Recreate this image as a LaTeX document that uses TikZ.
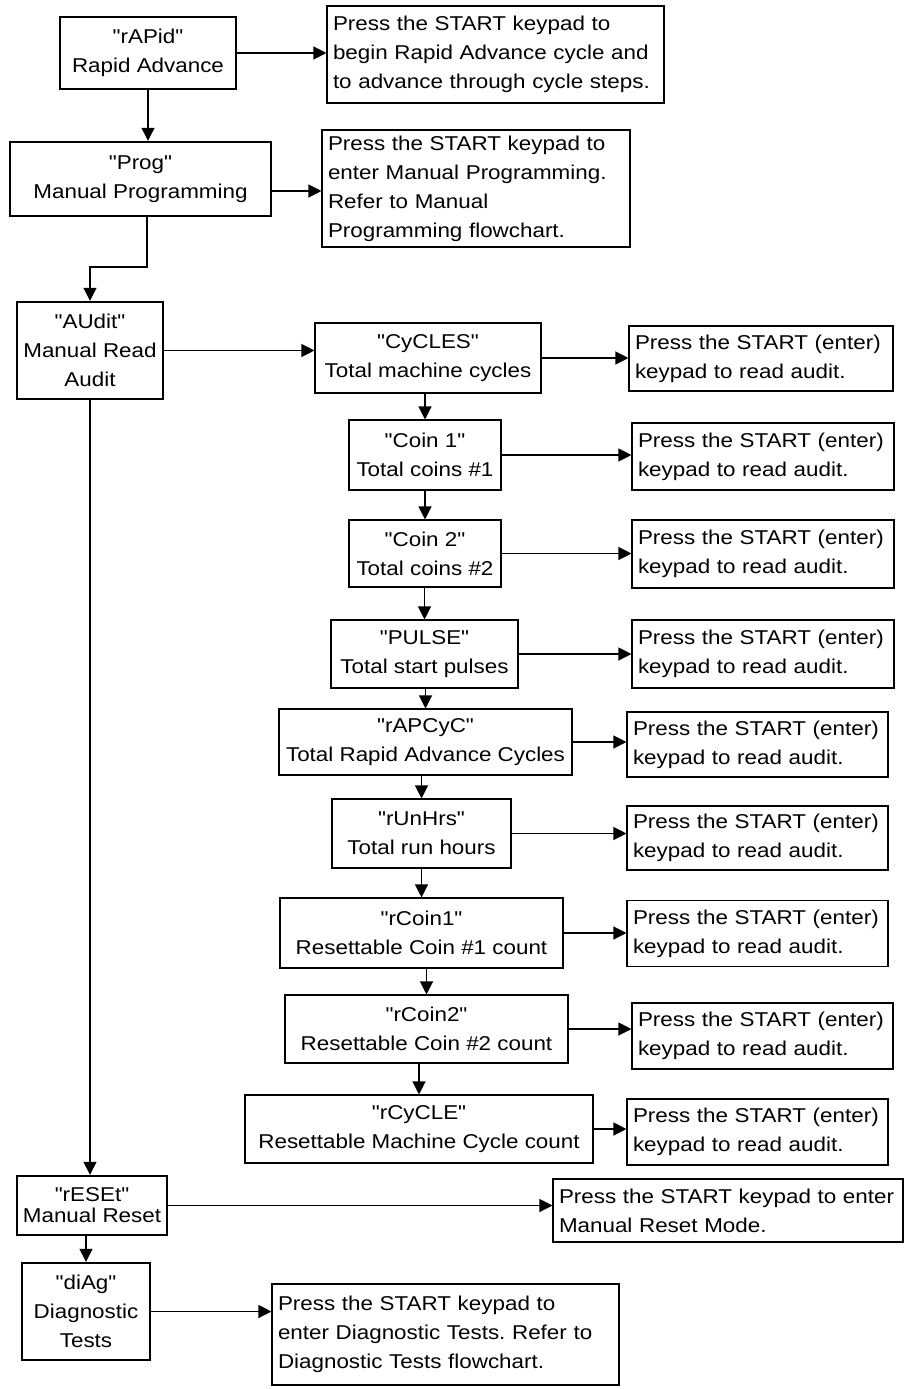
\documentclass[tikz,border=0pt]{standalone}
\usepackage{fontspec}
\setmainfont{Liberation Sans}[FakeStretch=1.12,Ligatures=TeXOff]
\usetikzlibrary{arrows.meta}
\begin{document}
\frenchspacing
\begin{tikzpicture}[x=1pt,y=-1pt,
  txt/.style={font=\fontsize{20}{29}\selectfont},
  tbox/.style={txt,draw,line width=2.4pt,inner sep=0pt,align=center},
  mbox/.style={txt,draw,line width=1.1pt,inner sep=0pt,align=center},
  rbox/.style={txt,draw,line width=1.1pt,inner xsep=6pt,inner ysep=0pt,align=left},
  arr/.style={line width=1.2pt,-{Triangle[length=13pt,width=13pt]}},
  ln/.style={line width=1.2pt}]
\useasboundingbox (0,0) rectangle (907,1389);

% left column
\node[tbox,minimum width=176pt,minimum height=72pt] (rapid) at (148,53) {"rAPid"\\Rapid Advance};
\node[tbox,minimum width=261pt,minimum height=74pt] (prog) at (140.5,179) {"Prog"\\Manual Programming};
\node[tbox,minimum width=146pt,minimum height=97pt] (audit) at (90,350.5) {"AUdit"\\Manual Read\\Audit};
\node[tbox,minimum width=150pt,minimum height=59pt,font=\fontsize{20}{21}\selectfont] (reset) at (92,1205.5) {"rESEt"\\Manual Reset};
\node[tbox,minimum width=128pt,minimum height=97pt] (diag) at (86,1311.5) {"diAg"\\Diagnostic\\Tests};

% right boxes of left column
\node[rbox,text width=325pt,minimum height=97pt] (r1) at (495.5,54.5) {Press the START keypad to\\begin Rapid Advance cycle and\\to advance through cycle steps.};
\node[rbox,text width=296pt,minimum height=117pt] (r2) at (476,188.5) {Press the START keypad to\\enter Manual Programming.\\Refer to Manual\\Programming flowchart.};
\node[rbox,text width=338pt,minimum height=63pt] (rreset) at (728,1210.5) {Press the START keypad to enter\\Manual Reset Mode.};
\node[rbox,text width=335pt,minimum height=101pt] (rdiag) at (445.5,1334.5) {Press the START keypad to\\enter Diagnostic Tests. Refer to\\Diagnostic Tests flowchart.};

% middle column
\node[mbox,minimum width=226pt,minimum height=70pt] (cycles) at (428,358) {"CyCLES"\\Total machine cycles};
\node[mbox,minimum width=152pt,minimum height=70pt] (coin1) at (425,455) {"Coin 1"\\Total coins \#1};
\node[mbox,minimum width=152pt,minimum height=67pt] (coin2) at (425,553.5) {"Coin 2"\\Total coins \#2};
\node[mbox,minimum width=187pt,minimum height=68pt] (pulse) at (424.5,654) {"PULSE"\\Total start pulses};
\node[mbox,minimum width=293pt,minimum height=66pt] (rapcyc) at (425.5,742) {"rAPCyC"\\Total Rapid Advance Cycles};
\node[mbox,minimum width=179pt,minimum height=69pt] (runhrs) at (421.5,833.5) {"rUnHrs"\\Total run hours};
\node[mbox,minimum width=283pt,minimum height=70pt] (rcoin1) at (421.5,933) {"rCoin1"\\Resettable Coin \#1 count};
\node[mbox,minimum width=283pt,minimum height=68pt] (rcoin2) at (426.5,1029) {"rCoin2"\\Resettable Coin \#2 count};
\node[mbox,minimum width=348pt,minimum height=68pt] (rcycle) at (419,1129) {"rCyCLE"\\Resettable Machine Cycle count};

% right column
\node[rbox,text width=252pt,minimum height=65pt] (ra) at (761,358.5) {Press the START (enter)\\keypad to read audit.};
\node[rbox,text width=250pt,minimum height=67pt] (rb) at (763,456.5) {Press the START (enter)\\keypad to read audit.};
\node[rbox,text width=250pt,minimum height=68pt] (rc) at (763,554) {Press the START (enter)\\keypad to read audit.};
\node[rbox,text width=250pt,minimum height=68pt] (rd) at (763,654) {Press the START (enter)\\keypad to read audit.};
\node[rbox,text width=249pt,minimum height=65pt] (re) at (757.5,744.5) {Press the START (enter)\\keypad to read audit.};
\node[rbox,text width=249pt,minimum height=64pt] (rf) at (757.5,838) {Press the START (enter)\\keypad to read audit.};
\node[rbox,text width=249pt,minimum height=66pt] (rg) at (757.5,933.5) {Press the START (enter)\\keypad to read audit.};
\node[rbox,text width=249pt,minimum height=66pt] (rh) at (762.5,1036) {Press the START (enter)\\keypad to read audit.};
\node[rbox,text width=249pt,minimum height=66pt] (ri) at (757.5,1132) {Press the START (enter)\\keypad to read audit.};

% connectors, left column
\draw[arr] (rapid.east) -- (r1.west |- rapid.east);
\draw[arr] (rapid.south) -- (prog.north -| rapid.south);
\coordinate (progout) at (271,191);
\draw[arr] (progout) -- (r2.west |- progout);
\coordinate (bend) at (147,267);
\draw[arr] (prog.south -| bend) -- (bend) -| (audit.north);
\draw[arr] (audit.east) -- (cycles.west |- audit.east);
\draw[arr] (audit.south) -- (reset.north -| audit.south);
\draw[arr] (reset.east) -- (rreset.west |- reset.east);
\draw[arr] (reset.south -| diag.north) -- (diag.north);
\draw[arr] (diag.east) -- (rdiag.west |- diag.east);

% middle column verticals
\draw[arr] (cycles.south -| coin1.north) -- (coin1.north);
\draw[arr] (coin1.south -| coin2.north) -- (coin2.north);
\draw[arr] (coin2.south -| pulse.north) -- (pulse.north);
\draw[arr] (pulse.south -| rapcyc.north) -- (rapcyc.north);
\draw[arr] (rapcyc.south -| runhrs.north) -- (runhrs.north);
\draw[arr] (runhrs.south -| rcoin1.north) -- (rcoin1.north);
\draw[arr] (rcoin1.south -| rcoin2.north) -- (rcoin2.north);
\draw[arr] (rcoin2.south -| rcycle.north) -- (rcycle.north);

% middle to right
\draw[arr] (cycles.east) -- (ra.west |- cycles.east);
\draw[arr] (coin1.east) -- (rb.west |- coin1.east);
\draw[arr] (coin2.east) -- (rc.west |- coin2.east);
\draw[arr] (pulse.east) -- (rd.west |- pulse.east);
\draw[arr] (rapcyc.east) -- (re.west |- rapcyc.east);
\draw[arr] (runhrs.east) -- (rf.west |- runhrs.east);
\draw[arr] (rcoin1.east) -- (rg.west |- rcoin1.east);
\draw[arr] (rcoin2.east) -- (rh.west |- rcoin2.east);
\draw[arr] (rcycle.east) -- (ri.west |- rcycle.east);
\end{tikzpicture}
\end{document}
